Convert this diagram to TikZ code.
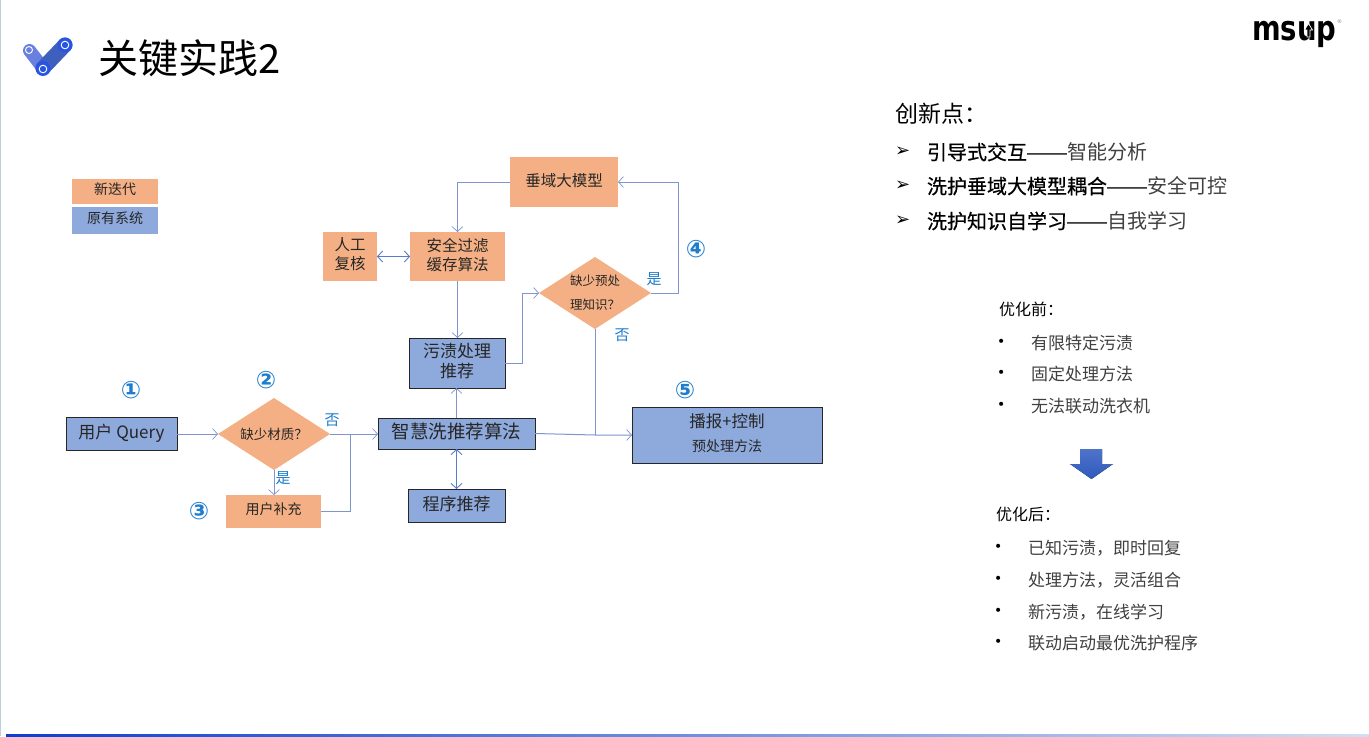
\documentclass[tikz,border=0pt]{standalone}
\usepackage{fontspec}
\setmainfont{Noto Sans CJK SC}
\newfontfamily\symfont{DejaVu Sans}
\newfontfamily\logofont{DejaVu Sans}
\newfontfamily\dashfont{Liberation Sans}
\newfontfamily\medfont[FakeBold=0.5]{Noto Sans CJK SC}
\usetikzlibrary{arrows.meta,shapes.geometric}
\definecolor{pdfcolor1}{RGB}{244,176,132}
\definecolor{pdfcolor2}{RGB}{142,169,219}
\definecolor{pdfcolor3}{RGB}{127,149,207}
\definecolor{pdfcolor4}{RGB}{30,125,205}
\definecolor{pdfcolor5}{RGB}{38,38,38}
\definecolor{pdfcolor6}{RGB}{64,64,64}
\definecolor{pdfcolor7}{RGB}{192,208,216}
\definecolor{pdfcolor8}{RGB}{47,90,190}
\definecolor{pdfcolor9}{RGB}{11,63,208}
\definecolor{pdfcolor10}{RGB}{90,120,235}
\definecolor{pdfcolor11}{RGB}{210,222,240}
\definecolor{pdfcolor12}{RGB}{106,128,224}
\definecolor{pdfcolor13}{RGB}{63,95,190}
\definecolor{pdfcolor14}{RGB}{40,85,224}
\tikzset{
  newbox/.style={fill=pdfcolor1,inner sep=0pt,outer sep=0pt,align=center,text=pdfcolor5,text depth=5bp},
  oldbox/.style={fill=pdfcolor2,draw=black!85,line width=0.9bp,inner sep=0pt,outer sep=0pt,align=center,text=pdfcolor5,text depth=5bp},
  keybox/.style={fill=pdfcolor2,inner sep=0pt,outer sep=0pt,align=center,text=pdfcolor5,text depth=5bp},
  askbox/.style={diamond,aspect=1.55,fill=pdfcolor1,inner sep=0pt,outer sep=0pt,align=center,text=pdfcolor5},
  flow/.style={draw=pdfcolor3,line width=1bp,-{Straight Barb[length=5bp,width=11bp,line width=0.7bp]}},
  bothflow/.style={draw=pdfcolor8!80,line width=1.1bp,{Straight Barb[length=5bp,width=11bp,line width=0.9bp]}-{Straight Barb[length=5bp,width=11bp,line width=0.9bp]}},
  txt/.style={anchor=west,inner sep=0pt,outer sep=0pt},
  marktext/.style={inner sep=0pt,outer sep=0pt,text=pdfcolor4},
}
\begin{document}
\begin{tikzpicture}[x=1bp,y=-1bp,inner sep=0pt,outer sep=0pt]
  \useasboundingbox (0,0) rectangle (1369,736);
  \fill[white] (0,0) rectangle (1369,736);
  \fill[pdfcolor7] (0,0) rectangle (1.2,736);
  \fill[left color=pdfcolor9,middle color=pdfcolor10,right color=pdfcolor11] (6,734) rectangle (1369,736);
  % title
  \draw[line width=13bp,line cap=round,pdfcolor12] (29.5,50.5) -- (43,68);
  \draw[line width=15bp,line cap=round,pdfcolor13] (43,68) -- (65,45);
  \fill[pdfcolor14] (43,68.5) circle (7.5bp);
  \fill[pdfcolor14] (65,45) circle (7.5bp);
  \draw[white,line width=0.9bp] (29,50) circle (3.5bp);
  \draw[white,line width=0.9bp] (43,69) circle (3.8bp);
  \draw[white,line width=0.9bp] (65,45) circle (3.8bp);
  \node[txt,text=black] (title) at (98,58) {{\fontsize{40.0bp}{48bp}\selectfont 关键实践2}};
  \node[inner sep=0pt,anchor=base west] (logo) at (1252,41) {\scalebox{1}[1.25]{\logofont\bfseries\fontsize{27.5bp}{33bp}\selectfont msup}};
  \fill[black,draw=white,line width=0.7bp] (1304.5,30) -- (1308.5,23.5) -- (1312.5,30) -- (1310,30) -- (1310,37) -- (1307,37) -- (1307,30) -- cycle;
  \node[inner sep=0pt,text=gray] (regmark) at (1339.5,22) {{\symfont\fontsize{5.0bp}{6bp}\selectfont ®}};
  % legend
  \node[newbox,minimum width=86bp,minimum height=25bp] (legendnew) at (115,191.5) {{\fontsize{14.0bp}{16.8bp}\selectfont 新迭代}};
  \node[keybox,minimum width=86bp,minimum height=27bp] (legendold) at (115,220.5) {{\fontsize{14.0bp}{16.8bp}\selectfont 原有系统}};
  % flow nodes
  \node[oldbox,minimum width=111bp,minimum height=33bp] (query) at (121.5,434) {{\fontsize{17.0bp}{20.4bp}\selectfont 用户 Query}};
  \node[askbox,minimum width=112bp,minimum height=72bp] (material) at (274,434) {{\fontsize{13.5bp}{16bp}\selectfont 缺少材质？}};
  \node[newbox,minimum width=95bp,minimum height=33bp] (supply) at (273.5,511.5) {{\fontsize{14.0bp}{16.8bp}\selectfont 用户补充}};
  \node[oldbox,minimum width=157bp,minimum height=31bp] (smart) at (456.5,433.5) {{\fontsize{18.5bp}{22bp}\selectfont 智慧洗推荐算法}};
  \node[oldbox,minimum width=97bp,minimum height=33bp] (program) at (456.5,505.5) {{\fontsize{17.0bp}{20.4bp}\selectfont 程序推荐}};
  \node[oldbox,minimum width=96bp,minimum height=50bp,font=\fontsize{17.0bp}{20bp}\selectfont] (stain) at (457,363) {污渍处理\\推荐};
  \node[newbox,minimum width=95bp,minimum height=49bp,font=\fontsize{15.5bp}{19bp}\selectfont] (safety) at (457.5,256.5) {安全过滤\\缓存算法};
  \node[newbox,minimum width=54bp,minimum height=49bp,font=\fontsize{15.5bp}{19bp}\selectfont] (human) at (350,256.5) {人工\\复核};
  \node[newbox,minimum width=108bp,minimum height=50bp] (model) at (564,182) {{\fontsize{15.5bp}{18bp}\selectfont 垂域大模型}};
  \node[askbox,minimum width=112bp,minimum height=72bp,font=\fontsize{12.5bp}{24bp}\selectfont] (knowledge) at (595,293) {缺少预处\\理知识？};
  \node[oldbox,minimum width=190bp,minimum height=56bp,font=\fontsize{16.5bp}{24bp}\selectfont] (report) at (727,435) {播报+控制\\{\fontsize{14.0bp}{20bp}\selectfont 预处理方法}};
  % bends
  \coordinate (join) at (350,434);
  \coordinate (stainbend) at (522,293);
  \coordinate (modelbend) at (678,182);
  \coordinate (reportbend) at (595,435);
  % connectors
  \draw[flow] (query.east) -- (material.west);
  \draw[flow] (material.east) -- (material.east -| smart.west);
  \draw[flow] (material.south) -- (material.south |- supply.north);
  \draw[flow,-] (supply.east) -| (join);
  \draw[flow] (smart.north) -- (smart.north |- stain.south);
  \draw[flow] (safety.south) -- (safety.south |- stain.north);
  \draw[flow] (model.west) -| (safety.north);
  \draw[bothflow] (human.east) -- (safety.west);
  \draw[bothflow] (smart.south) -- (program.north);
  \draw[flow] (stain.east) -| (stainbend) -- (knowledge.west);
  \draw[flow] (knowledge.east) -| (modelbend) -- (model.east);
  \draw[flow,-] (knowledge.south) -- (reportbend);
  \draw[flow] (smart.east) -- (reportbend) -- (report.west);
  % labels
  \node[marktext] (no1) at (332,420) {{\fontsize{15.0bp}{18bp}\selectfont 否}};
  \node[marktext] (yes1) at (283,478) {{\fontsize{15.0bp}{18bp}\selectfont 是}};
  \node[marktext] (yes2) at (654,279) {{\fontsize{15.0bp}{18bp}\selectfont 是}};
  \node[marktext] (no2) at (622,335) {{\fontsize{15.0bp}{18bp}\selectfont 否}};
  \node[marktext] (step1) at (131,390) {{\symfont\bfseries\fontsize{24.0bp}{26bp}\selectfont ①}};
  \node[marktext] (step2) at (266,380) {{\symfont\bfseries\fontsize{24.0bp}{26bp}\selectfont ②}};
  \node[marktext] (step3) at (199,511) {{\symfont\bfseries\fontsize{24.0bp}{26bp}\selectfont ③}};
  \node[marktext] (step4) at (696,249) {{\symfont\bfseries\fontsize{24.0bp}{26bp}\selectfont ④}};
  \node[marktext] (step5) at (685,390) {{\symfont\bfseries\fontsize{24.0bp}{26bp}\selectfont ⑤}};
  % right side
  \node[txt,text=black] (points) at (895,114) {{\fontsize{23.0bp}{27.6bp}\selectfont 创新点：}};
  \node[txt] (pointmark1) at (895,152) {{\symfont\fontsize{18.0bp}{21bp}\selectfont ➢}};
  \node[txt] (pointmark2) at (895,186) {{\symfont\fontsize{18.0bp}{21bp}\selectfont ➢}};
  \node[txt] (pointmark3) at (895,221) {{\symfont\fontsize{18.0bp}{21bp}\selectfont ➢}};
  \node[txt] (point1) at (927,152) {{\fontsize{20.0bp}{24bp}\selectfont {\medfont 引导式交互}{\dashfont ——}\textcolor{pdfcolor6}{智能分析}}};
  \node[txt] (point2) at (927,186) {{\fontsize{20.0bp}{24bp}\selectfont {\medfont 洗护垂域大模型耦合}{\dashfont ——}\textcolor{pdfcolor6}{安全可控}}};
  \node[txt] (point3) at (927,221) {{\fontsize{20.0bp}{24bp}\selectfont {\medfont 洗护知识自学习}{\dashfont ——}\textcolor{pdfcolor6}{自我学习}}};
  \node[txt,text=black] (before) at (999,309) {{\fontsize{16.0bp}{19.2bp}\selectfont 优化前：}};
  \node[txt] (beforemark1) at (997,343) {{\symfont\fontsize{14.0bp}{16.8bp}\selectfont •}};
  \node[txt] (beforemark2) at (997,374) {{\symfont\fontsize{14.0bp}{16.8bp}\selectfont •}};
  \node[txt] (beforemark3) at (997,406) {{\symfont\fontsize{14.0bp}{16.8bp}\selectfont •}};
  \node[txt,text=pdfcolor6] (before1) at (1031,343) {{\fontsize{17.0bp}{20.4bp}\selectfont 有限特定污渍}};
  \node[txt,text=pdfcolor6] (before2) at (1031,374) {{\fontsize{17.0bp}{20.4bp}\selectfont 固定处理方法}};
  \node[txt,text=pdfcolor6] (before3) at (1031,406) {{\fontsize{17.0bp}{20.4bp}\selectfont 无法联动洗衣机}};
  \fill[top color=pdfcolor8!85,bottom color=pdfcolor8] (1080,449) -- (1102,449) -- (1102,464) -- (1113,464) -- (1091.5,479) -- (1070,464) -- (1080,464) -- cycle;
  \node[txt,text=black] (after) at (996,514) {{\fontsize{16.0bp}{19.2bp}\selectfont 优化后：}};
  \node[txt] (aftermark1) at (994,548) {{\symfont\fontsize{14.0bp}{16.8bp}\selectfont •}};
  \node[txt] (aftermark2) at (994,580) {{\symfont\fontsize{14.0bp}{16.8bp}\selectfont •}};
  \node[txt] (aftermark3) at (994,612) {{\symfont\fontsize{14.0bp}{16.8bp}\selectfont •}};
  \node[txt] (aftermark4) at (994,643) {{\symfont\fontsize{14.0bp}{16.8bp}\selectfont •}};
  \node[txt,text=pdfcolor6] (after1) at (1028,548) {{\fontsize{17.0bp}{20.4bp}\selectfont 已知污渍，即时回复}};
  \node[txt,text=pdfcolor6] (after2) at (1028,580) {{\fontsize{17.0bp}{20.4bp}\selectfont 处理方法，灵活组合}};
  \node[txt,text=pdfcolor6] (after3) at (1028,612) {{\fontsize{17.0bp}{20.4bp}\selectfont 新污渍，在线学习}};
  \node[txt,text=pdfcolor6] (after4) at (1028,643) {{\fontsize{17.0bp}{20.4bp}\selectfont 联动启动最优洗护程序}};
\end{tikzpicture}
\end{document}
